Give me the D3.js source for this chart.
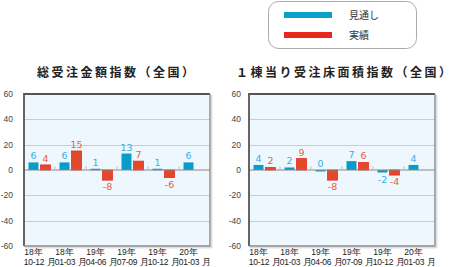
<!DOCTYPE html>
<html>
<head>
<meta charset="utf-8">
<script src="https://cdn.jsdelivr.net/npm/d3@7"></script>
<style>
  body { margin: 0; background: #fff; }
  svg { display: block; font-family: "Noto Sans CJK JP", "Liberation Sans", sans-serif; }
</style>
</head>
<body>
<div id="chart"></div>
<script>
// data
const periods = ["18年|10-12 月", "18年|01-03 月", "19年|04-06 月", "19年|07-09 月", "19年|10-12 月", "20年|01-03 月"];
const series = ["見通し", "実績"];
const amountForecast = [6, 6, 1, 13, 1, 6];
const amountActual = [4, 15, -8, 7, -6, null];
const areaForecast = [4, 2, 0, 7, -2, 4];
const areaActual = [2, 9, -8, 6, -4, null];
const yTicks = [60, 40, 20, 0, -20, -40, -60];

const barColor = { "見通し": "#0a9cc8", "実績": "#e2492a" };
const labelColor = { "見通し": "#3aaee0", "実績": "#e8603f" };

const svg = d3.select("#chart")
  .append("svg")
    .attr("width", 456)
    .attr("height", 267);

// legend
const legend = svg.append("g");
legend.append("rect")
  .attr("x", 268.5).attr("y", 1.5)
  .attr("width", 148).attr("height", 47)
  .attr("rx", 10)
  .attr("fill", "#fff")
  .attr("stroke", "#aaa");
series.forEach((s, i) => {
  legend.append("rect")
    .attr("x", 284).attr("y", 12 + i * 20)
    .attr("width", 48).attr("height", 6)
    .attr("fill", i === 0 ? "#0aa0cc" : "#e8281e");
  legend.append("text")
    .attr("x", 349).attr("y", 19 + i * 20)
    .attr("font-size", 10)
    .attr("fill", "#333")
    .text(s);
});

function drawChart(opts) {
  const { left, right, title, titleX, labelX, forecast, actual } = opts;
  const top = 94, bottom = 246;

  const x = d3.scaleBand()
    .domain(periods)
    .range([left, right]);

  const xs = d3.scaleBand()
    .domain(series)
    .range([0, x.bandwidth()])
    .paddingInner(0.17)
    .paddingOuter(0.375);

  const y = d3.scaleLinear()
    .domain([-60, 60])
    .range([bottom, top]);

  const g = svg.append("g");

  // title
  g.append("text")
    .attr("x", titleX).attr("y", 77)
    .attr("font-size", 12)
    .attr("font-weight", "bold")
    .attr("letter-spacing", 2.5)
    .attr("fill", "#222")
    .text(title);

  // plot background
  g.append("rect")
    .attr("x", left).attr("y", top)
    .attr("width", right - left).attr("height", bottom - top)
    .attr("fill", "#eef7fd");

  // grid lines
  g.selectAll(".grid")
    .data(yTicks.filter(d => d !== 0 && Math.abs(d) !== 60))
    .enter()
    .append("line")
      .attr("x1", left).attr("x2", right)
      .attr("y1", d => Math.round(y(d)) + 0.5)
      .attr("y2", d => Math.round(y(d)) + 0.5)
      .attr("stroke", "#c8cdd0");

  // y tick labels
  g.selectAll(".ylab")
    .data(yTicks)
    .enter()
    .append("text")
      .attr("x", labelX)
      .attr("y", d => y(d) + 3)
      .attr("text-anchor", "end")
      .attr("font-family", "Liberation Sans, sans-serif")
      .attr("font-size", 8.5)
      .attr("fill", "#444")
      .text(d => d);

  // bars
  const rows = periods.map((p, i) => ({ p, values: [
    { s: series[0], v: forecast[i] },
    { s: series[1], v: actual[i] }
  ].filter(d => d.v !== null) }));

  const grp = g.selectAll(".grp")
    .data(rows)
    .enter()
    .append("g")
      .attr("transform", d => `translate(${x(d.p)},0)`);

  grp.selectAll("rect")
    .data(d => d.values)
    .enter()
    .append("rect")
      .attr("x", d => xs(d.s))
      .attr("y", d => y(Math.max(0, d.v)))
      .attr("width", xs.bandwidth())
      .attr("height", d => Math.max(Math.abs(y(d.v) - y(0)), 1.5))
      .attr("fill", d => barColor[d.s])
      .attr("stroke", d => d.s === "実績" ? "#f02a1e" : "none")
      .attr("stroke-width", 0.8);

  grp.selectAll(".val")
    .data(d => d.values)
    .enter()
    .append("text")
      .attr("x", d => xs(d.s) + xs.bandwidth() / 2)
      .attr("y", d => d.v < 0 ? y(d.v) + 10 : y(d.v) - 3)
      .attr("text-anchor", "middle")
      .attr("font-family", "DejaVu Sans, sans-serif")
      .attr("font-size", 9.5)
      .attr("fill", d => labelColor[d.s])
      .text(d => d.v);

  // zero line and group ticks
  g.append("line")
    .attr("x1", left).attr("x2", right)
    .attr("y1", y(0)).attr("y2", y(0))
    .attr("stroke", "#888")
    .attr("stroke-width", 1.2);

  g.selectAll(".gtick")
    .data(periods.slice(1))
    .enter()
    .append("line")
      .attr("x1", d => x(d)).attr("x2", d => x(d))
      .attr("y1", y(0) - 3.5).attr("y2", y(0))
      .attr("stroke", "#bbb");

  // frame: dark top/left, gray bottom/right
  g.append("path")
    .attr("d", `M${left},${bottom}V${top}H${right}`)
    .attr("fill", "none")
    .attr("stroke", "#555")
    .attr("stroke-width", 1.8);
  g.append("path")
    .attr("d", `M${left},${bottom}H${right}V${top}`)
    .attr("fill", "none")
    .attr("stroke", "#8a8a8a")
    .attr("stroke-width", 1.4);
  g.append("path")
    .attr("d", `M${left + 1},${bottom + 1.8}H${right + 1.8}V${top + 1}`)
    .attr("fill", "none")
    .attr("stroke", "#d0d0d0")
    .attr("stroke-width", 1);

  // x axis labels (two lines)
  const xl = g.selectAll(".xlab")
    .data(periods)
    .enter()
    .append("g")
      .attr("transform", d => `translate(${x(d) + x.bandwidth() / 2},0)`)
      .attr("font-family", "Liberation Sans, sans-serif")
      .attr("font-size", 8.5)
      .attr("fill", "#222");
  xl.append("text")
    .attr("x", -6).attr("y", 255)
    .attr("text-anchor", "middle")
    .text(d => d.split("|")[0]);
  xl.append("text")
    .attr("x", 0).attr("y", 265)
    .attr("text-anchor", "middle")
    .attr("letter-spacing", -0.2)
    .text(d => d.split("|")[1]);
}

drawChart({
  left: 24, right: 210,
  title: "総受注金額指数（全国）", titleX: 37, labelX: 13,
  forecast: amountForecast, actual: amountActual
});

drawChart({
  left: 249, right: 435,
  title: "１棟当り受注床面積指数（全国）", titleX: 236, labelX: 241,
  forecast: areaForecast, actual: areaActual
});
</script>
</body>
</html>
